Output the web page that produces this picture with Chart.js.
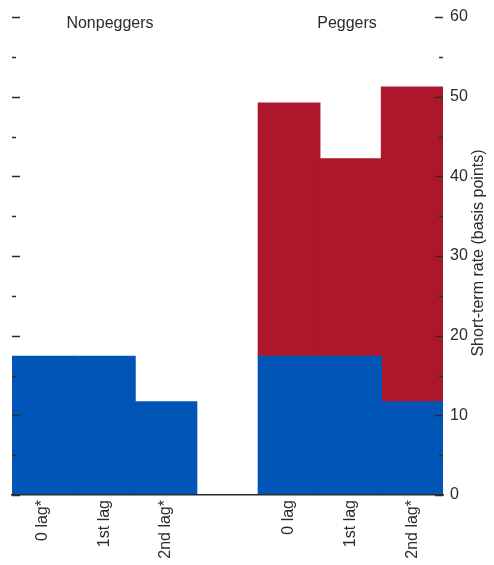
<!DOCTYPE html>
<html>
<head>
<meta charset="utf-8">
<script src="https://cdn.jsdelivr.net/npm/chart.js@4/dist/chart.umd.min.js"></script>
<style>
  html, body { margin: 0; padding: 0; background: #fff; }
  #wrap { width: 494px; height: 565px; position: relative; }
</style>
</head>
<body>
<div id="wrap"><canvas id="myChart"></canvas></div>
<script>
// Data
const categories = ['0 lag*', '1st lag', '2nd lag*', '', '0 lag', '1st lag', '2nd lag*'];
const baseRate = [17.4, 17.4, 11.7, null, 17.4, 17.4, 11.7];
const pegEffect = [null, null, null, null, 31.8, 24.8, 39.5];
const groupTitles = ['Nonpeggers', 'Peggers'];
const yTitle = 'Short-term rate (basis points)';
const yMin = 0, yMax = 60, yStep = 5;

const FONT = '"Liberation Sans Narrow", "Arial Narrow", "Liberation Sans", Arial, sans-serif';
const ink = '#2b2b2b';

// ticks on both sides drawn over the bars, group titles, and the axis title
const decorations = {
    id: 'decorations',
    afterDatasetsDraw(chart) {
        const ctx = chart.ctx;
        const area = chart.chartArea;
        const y = chart.scales.y;
        ctx.save();
        ctx.strokeStyle = ink;
        ctx.lineWidth = 1.5;
        y.ticks.forEach(t => {
            const py = Math.round(y.getPixelForValue(t.value)) + 0.5;
            const major = t.value % 10 === 0;
            const len = major ? 8 : 4;
            ctx.beginPath();
            ctx.moveTo(area.left, py);
            ctx.lineTo(area.left + len, py);
            ctx.moveTo(area.right - len, py);
            ctx.lineTo(area.right, py);
            ctx.stroke();
        });
        ctx.fillStyle = ink;
        ctx.font = '16px ' + FONT;
        ctx.textAlign = 'center';
        ctx.textBaseline = 'middle';
        ctx.fillText(groupTitles[0], 110, 24);
        ctx.fillText(groupTitles[1], 347, 24);

        // y title reads bottom to top
        ctx.translate(479, 253);
        ctx.rotate(-Math.PI / 2);
        ctx.fillText(yTitle, 0, 0);
        ctx.restore();
    }
};

const ctx = document.getElementById('myChart').getContext('2d');
new Chart(ctx, {
    type: 'bar',
    data: {
        labels: categories,
        datasets: [{
            label: 'Base',
            data: baseRate,
            backgroundColor: '#0055B6',
            borderWidth: 0,
            inflateAmount: 0.6,
            barPercentage: 1,
            categoryPercentage: 1
        }, {
            label: 'Pegging',
            data: pegEffect,
            backgroundColor: '#AC172C',
            borderWidth: 0,
            inflateAmount: 0.6,
            barPercentage: 1,
            categoryPercentage: 1
        }]
    },
    options: {
        responsive: true,
        maintainAspectRatio: false,
        animation: false,
        layout: { padding: { top: 17, left: 12, right: 0, bottom: 0 } },
        plugins: {
            legend: { display: false },
            tooltip: { enabled: false }
        },
        scales: {
            x: {
                stacked: true,
                grid: { display: false, drawTicks: false },
                border: { display: true, color: ink, width: 1.5, z: 1 },
                ticks: {
                    color: ink,
                    font: { family: FONT, size: 16 },
                    minRotation: 90,
                    maxRotation: 90,
                    padding: 5,
                    autoSkip: false
                },
                afterFit(scale) { scale.height = 70; }
            },
            y: {
                stacked: true,
                position: 'right',
                min: yMin,
                max: yMax,
                grid: { display: false, drawTicks: false },
                border: { display: false },
                ticks: {
                    stepSize: yStep,
                    color: ink,
                    padding: 7,
                    font: { family: FONT, size: 16 },
                    callback: v => (v % 10 === 0 ? v : '')
                },
                afterFit(scale) { scale.width = 51; }
            }
        }
    },
    plugins: [decorations]
});
</script>
</body>
</html>
